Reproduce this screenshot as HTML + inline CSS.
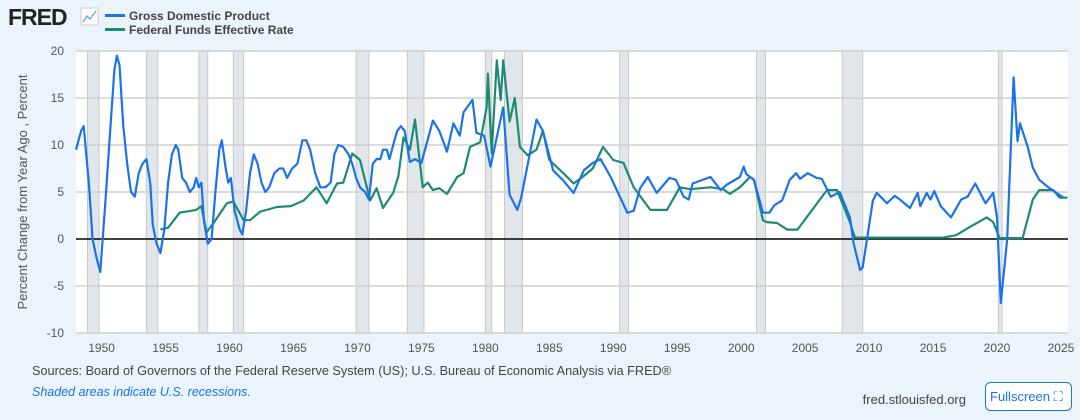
<!DOCTYPE html>
<html><head><meta charset="utf-8"><style>
body{margin:0;width:1080px;height:420px;background:#ebf3fb;font-family:"Liberation Sans",sans-serif;overflow:hidden;position:relative}
svg{position:absolute;left:0;top:0}
.t{font-size:12px;fill:#555}
</style></head><body>
<svg id="c" width="1080" height="420">
<text x="8" y="25" font-size="23" font-weight="bold" fill="#222" letter-spacing="-1">FRED</text>
<rect x="81" y="8" width="17" height="17" fill="#fff" stroke="#ccc"/>
<polyline points="83,22 87,16 90,19 96,11" fill="none" stroke="#5aa0e0" stroke-width="1.2"/>
<line x1="105" y1="15.5" x2="125" y2="15.5" stroke="#1a73e8" stroke-width="3"/>
<text x="129" y="20" font-size="12" font-weight="bold" fill="#444">Gross Domestic Product</text>
<line x1="105" y1="29.5" x2="125" y2="29.5" stroke="#1e8a73" stroke-width="3"/>
<text x="129" y="34" font-size="12" font-weight="bold" fill="#444">Federal Funds Effective Rate</text>
<rect x="76" y="51" width="992" height="282" fill="#fff"/>
<g id="rec"></g><g id="grid"></g><g id="lines"></g>
<text transform="translate(27,192) rotate(-90)" text-anchor="middle" font-size="13" fill="#555">Percent Change from Year Ago , Percent</text>
<text x="32" y="375" font-size="12.7" fill="#444">Sources: Board of Governors of the Federal Reserve System (US); U.S. Bureau of Economic Analysis via FRED®</text>
<text x="32" y="396" font-size="12.5" font-style="italic" fill="#1a73e8">Shaded areas indicate U.S. recessions.</text>
<text x="966" y="404" text-anchor="end" font-size="13" fill="#444">fred.stlouisfed.org</text>
<g><rect x="985.5" y="382.5" width="86" height="28" rx="5" fill="#fff" stroke="#1a73e8"/>
<text x="990" y="401" font-size="13" fill="#1a73e8">Fullscreen ⛶</text></g>
</svg>
<script>
const yTicks=[20,15,10,5,0,-5,-10];
const xTicks=[1950,1955,1960,1965,1970,1975,1980,1985,1990,1995,2000,2005,2010,2015,2020,2025];
const recessions=[[1948.9,1949.8],[1953.5,1954.4],[1957.6,1958.3],[1960.3,1961.1],[1969.9,1970.9],[1973.9,1975.2],[1980.0,1980.5],[1981.5,1982.9],[1990.5,1991.2],[2001.2,2001.9],[2007.9,2009.5],[2020.1,2020.4]];
const gdpYears=[1948.0,1948.4,1948.6,1949.0,1949.3,1949.6,1949.9,1950.3,1950.7,1951.0,1951.2,1951.4,1951.7,1952.0,1952.3,1952.6,1952.9,1953.2,1953.5,1953.8,1954.0,1954.3,1954.6,1954.9,1955.2,1955.5,1955.8,1956.0,1956.3,1956.6,1956.9,1957.2,1957.4,1957.6,1957.8,1958.0,1958.3,1958.6,1958.9,1959.2,1959.4,1959.7,1959.9,1960.1,1960.4,1960.6,1960.8,1961.0,1961.3,1961.6,1961.9,1962.2,1962.5,1962.8,1963.1,1963.5,1963.9,1964.2,1964.5,1964.9,1965.3,1965.7,1966.0,1966.3,1966.7,1967.1,1967.5,1967.9,1968.2,1968.5,1968.9,1969.3,1969.6,1969.9,1970.2,1970.6,1970.9,1971.2,1971.5,1971.8,1972.0,1972.3,1972.5,1972.8,1973.1,1973.4,1973.7,1974.1,1974.5,1975.0,1975.9,1976.4,1977.0,1977.5,1978.0,1978.3,1979.0,1979.3,1979.9,1980.4,1981.4,1981.9,1982.5,1982.8,1984.0,1984.5,1985.3,1986.1,1986.9,1987.7,1988.4,1989.0,1989.8,1991.1,1991.6,1992.1,1992.7,1993.4,1994.4,1994.9,1995.5,1995.9,1996.2,1997.6,1998.4,1998.9,1999.9,2000.2,2000.4,2001.0,2001.7,2002.2,2002.6,2003.2,2003.8,2004.3,2004.6,2005.2,2005.9,2006.3,2007.0,2007.7,2008.5,2008.8,2009.3,2009.5,2010.3,2010.6,2011.4,2012.0,2012.4,2013.2,2013.8,2014.0,2014.5,2014.8,2015.1,2015.6,2016.4,2017.2,2017.7,2018.3,2019.1,2019.7,2020.0,2020.3,2020.8,2021.3,2021.6,2021.8,2022.4,2022.8,2023.3,2024.1,2025.2];
const gdpValues=[9.5,11.5,12,6,0,-2,-3.5,4,12,18,19.5,18.5,12,8,5,4.5,7,8,8.5,6,1.5,-0.5,-1.5,1,6,9,10,9.5,6.5,6,5,5.5,6.5,5.5,6,2,-0.5,0,5,9.5,10.5,7.5,6,6.5,3,2,1,0.5,3,7,9,8,6,5,5.5,7,7.5,7.5,6.5,7.5,8,10.5,10.5,9.5,7,5.5,5.5,6,9,10,9.8,9,8,6.5,5.5,5,4.2,8,8.5,8.5,9.5,9.5,8.5,10,11.5,12,11.5,8.2,8.5,8.1,12.6,11.5,9.3,12.3,11,13.5,14.8,11.3,11,7.7,14,4.7,3.1,4.4,12.7,11.5,7.3,6.2,4.9,7.3,8.1,8.5,6.6,2.8,3,5.4,6.6,4.9,6.5,6.3,4.5,4.2,5.9,6.6,5.2,5.8,6.6,7.7,6.9,6.3,2.8,2.8,3.6,4.1,6.3,7,6.4,7,6.5,6.4,4.5,5,2.3,-0.5,-3.3,-3,4.1,4.9,3.8,4.6,4.2,3.3,4.9,3.5,4.9,4.2,5.1,3.5,2.3,4.2,4.5,5.9,3.8,4.9,2.3,-6.8,0,17.2,10.4,12.3,9.8,7.6,6.3,5.4,4.4];
const ffrYears=[1954.6,1955.2,1956.1,1957.4,1957.8,1958.2,1958.8,1959.8,1960.3,1961.1,1961.6,1962.4,1963.7,1964.8,1965.8,1966.8,1967.6,1968.4,1968.9,1969.6,1970.2,1971.0,1971.5,1972.0,1972.8,1973.2,1973.6,1974.1,1974.5,1975.1,1975.5,1975.9,1976.4,1977.0,1977.8,1978.3,1978.8,1979.6,1980.1,1980.2,1980.5,1980.9,1981.2,1981.4,1981.9,1982.3,1982.7,1983.3,1984.0,1984.5,1985.0,1986.1,1986.9,1987.7,1988.4,1989.2,1990.0,1990.8,1991.6,1992.9,1994.2,1995.2,1996.0,1997.6,1998.6,1999.1,1999.9,2000.7,2001.0,2001.7,2002.0,2002.8,2003.6,2004.4,2006.7,2007.5,2008.5,2008.9,2015.8,2016.8,2017.9,2019.2,2019.7,2020.2,2022.0,2022.8,2023.3,2024.4,2024.9,2025.5];
const ffrValues=[1.0,1.2,2.8,3.1,3.5,0.7,1.8,3.8,4.0,2.0,2.0,2.9,3.4,3.5,4.1,5.5,3.8,5.9,6.0,9.1,8.4,4.1,5.4,3.3,4.9,6.7,10.8,9.5,12.7,5.5,6.0,5.2,5.4,4.8,6.6,7.0,9.8,10.3,14,17.6,9.1,19.0,14.8,19.0,12.5,15,9.8,8.9,9.5,11.5,8.4,7.0,5.9,6.7,7.5,9.8,8.4,8.1,5.5,3.1,3.1,5.5,5.3,5.5,5.3,4.8,5.5,6.6,6.3,2.0,1.8,1.7,1.0,1.0,5.2,5.2,1.8,0.15,0.15,0.4,1.3,2.3,1.8,0.1,0.1,4.2,5.2,5.2,4.4,4.4];
const X0=76,X1=1068,Y0=51,Y1=333,yr0=1948.0,yr1=2025.55;
const xs=v=>X0+(v-yr0)/(yr1-yr0)*(X1-X0);
const ys=v=>Y1-(v+10)/30*(Y1-Y0);
const NS='http://www.w3.org/2000/svg';
function mk(t,a,p){const e=document.createElementNS(NS,t);for(const k in a)e.setAttribute(k,a[k]);p.appendChild(e);return e;}
const rec=document.getElementById('rec'),grid=document.getElementById('grid'),lines=document.getElementById('lines');
recessions.forEach(r=>{const e=mk('rect',{x:xs(r[0]),y:Y0,width:xs(r[1])-xs(r[0]),height:Y1-Y0,fill:'#e1e6eb',stroke:'#c8c8c8','stroke-width':1},rec);

});
yTicks.forEach(v=>{const l=mk('line',{x1:X0,x2:X1,y1:ys(v),y2:ys(v),stroke:v===0?'#000':'#d0d0d0','stroke-width':1.5},grid);


const t=mk('text',{x:64,y:ys(v)+4,'text-anchor':'end',class:'t'},grid);t.textContent=v;

});
xTicks.forEach(v=>{const t=mk('text',{x:xs(v),y:352,'text-anchor':'middle',class:'t'},grid);t.textContent=v;

});
function series(xa,va,col,name){const p=xa.map((x,i)=>xs(x).toFixed(1)+','+ys(va[i]).toFixed(1)).join(' ');
const e=mk('polyline',{points:p,fill:'none',stroke:col,'stroke-width':2.2,'stroke-linejoin':'round'},lines);

}
series(ffrYears,ffrValues,'#1e8a73','ffr-line');
series(gdpYears,gdpValues,'#1a73e8','gdp-line');
</script>
</body></html>
